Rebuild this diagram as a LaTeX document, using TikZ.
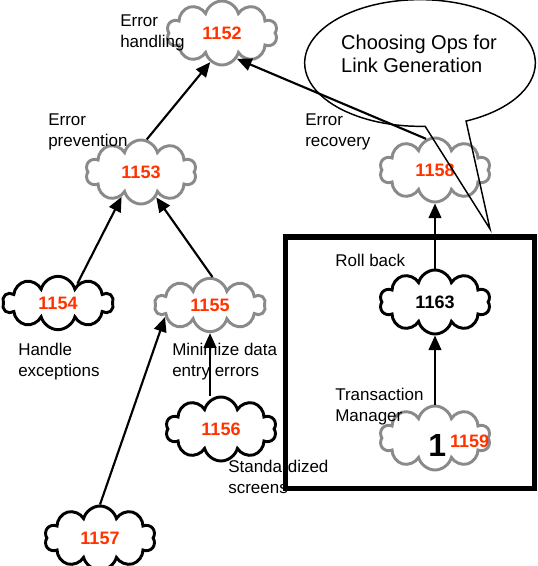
\documentclass[tikz,border=0pt]{standalone}
\usepackage{fontspec}
\setmainfont{Liberation Sans}
\definecolor{goalred}{HTML}{FF3300}
\definecolor{cloudgray}{HTML}{8A8A8A}
\usetikzlibrary{shapes.symbols,shapes.callouts,arrows.meta}

\begin{document}
\begin{tikzpicture}[
  x=0.75pt, y=-0.75pt,
  goal/.style={cloud, cloud puffs=10, cloud ignores aspect, draw=black, line width=2.2pt, minimum width=83pt, minimum height=48pt, inner sep=0pt, text=goalred, font=\fontsize{13.5}{15}\selectfont\bfseries},
  softgoal/.style={goal, draw=cloudgray},
  tag/.style={anchor=west, align=left, inner sep=0pt, font=\fontsize{12.75}{15.75}\selectfont},
  link/.style={-{Triangle[length=11pt,width=9.5pt]}, line width=1.6pt},
]
\useasboundingbox (0,0) rectangle (537,566);
\node[softgoal] (n1152) at (222,33) {1152};
\node[softgoal] (n1153) at (141,172) {1153};
\node[goal, minimum height=40pt] (n1154) at (58,303) {1154};
\node[softgoal, minimum height=40pt] (n1155) at (210,305) {1155};
\node[goal] (n1156) at (221,429) {1156};
\node[goal] (n1157) at (100,538) {1157};
\node[softgoal] (n1158) at (435,170) {1158};
\node[goal, text=black] (n1163) at (435,302) {1163};
\node[softgoal] (n1159) at (435,438) {\raisebox{-14pt}[0pt][0pt]{\makebox[0pt][l]{\hspace{-5pt}\textcolor{black}{\fontsize{24}{24}\selectfont 1}\hspace{3pt}\raisebox{7pt}{1159}}}};
\node[tag] (lhandling) at (120,33) {Error\\handling};
\node[tag] (lprevention) at (48,132) {Error\\prevention};
\node[tag] (lrecovery) at (305,132) {Error\\recovery};
\node[tag] (lexceptions) at (18,362) {Handle\\exceptions};
\node[tag] (lminimize) at (172,362) {Minimize data\\entry errors};
\node[tag] (lscreens) at (228,477) {Standardized\\screens};
\node[tag] (lrollback) at (335,260) {Roll back};
\node[tag] (lmanager) at (335,407) {Transaction\\Manager};
\draw[line width=3.75pt] (285,237) rectangle (534,488);
\coordinate (tip) at (490,229);
\node[ellipse callout, draw, line width=1.1pt, minimum width=173pt, minimum height=95pt, callout absolute pointer={(tip)}, callout pointer arc=21] (callout) at (420,63) {};
\node[align=left, inner sep=0pt, font=\fontsize{15}{17.3}\selectfont] (calltext) at (419,54) {Choosing Ops for\\Link Generation};
\draw[link] (n1153.80) -- (n1152.248);
\draw[link] (n1158.106) -- (n1152.300);
\draw[link] (n1154.45) -- (n1153.232);
\draw[link] (n1155.85) -- (n1153.301);
\draw[link] (n1157.north) -- (n1155.195);
\draw[link] (n1155.south |- n1156.north) -- (n1155.south);
\draw[link] (n1163.north) -- (n1158.south);
\draw[link] (n1159.north) -- (n1163.south);
\end{tikzpicture}
\end{document}
